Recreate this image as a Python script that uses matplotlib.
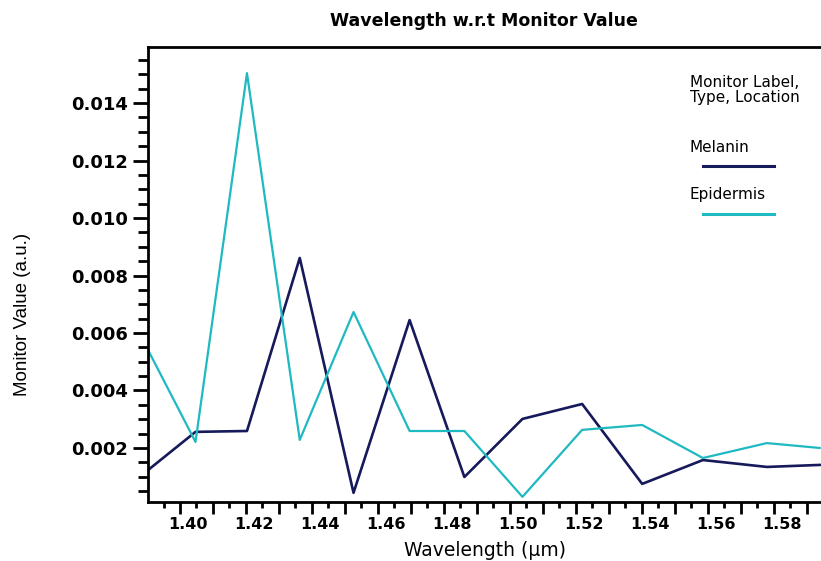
import numpy as np
import matplotlib
matplotlib.use('Agg')
import matplotlib.pyplot as plt
import matplotlib.transforms as mtransforms
from matplotlib.ticker import MultipleLocator, FuncFormatter

# wavelength samples (um) and monitor values
wavelength = [1.3903, 1.4047, 1.4203, 1.4363, 1.4526, 1.4696, 1.4862,
              1.5038, 1.5219, 1.5401, 1.5585, 1.5779, 1.5939]
melanin = [0.00123, 0.00256, 0.00259, 0.00861, 0.00044, 0.00645, 0.00099,
           0.00301, 0.00353, 0.00075, 0.00158, 0.00134, 0.00141]
epidermis = [0.00541, 0.00221, 0.01504, 0.00228, 0.00673, 0.00259, 0.00259,
             0.00030, 0.00263, 0.00280, 0.00165, 0.00217, 0.00200]

series_names = ['Melanin', 'Epidermis']
series_colors = ['#16195a', '#1fb9c1']

plt.rcParams['font.family'] = ['DejaVu Sans']

fig = plt.figure(figsize=(8.21, 5.61), dpi=100)
ax = fig.add_axes([148 / 821, 1 - 502 / 561, 1 - 148 / 821, (502 - 47) / 561])

ax.plot(wavelength, melanin, color=series_colors[0], lw=1.9)
ax.plot(wavelength, epidermis, color=series_colors[1], lw=1.6)

ax.set_xlim(1.3903, 1.5943)
ax.set_ylim(0.00012, 0.01595)

# ticks: long every 0.01, labels every 0.02, short every 0.005
ax.xaxis.set_major_locator(MultipleLocator(0.01))
ax.xaxis.set_minor_locator(MultipleLocator(0.005))
ax.xaxis.set_major_formatter(FuncFormatter(
    lambda v, p: f'{v:.2f}' if round(v * 100) % 2 == 0 else ''))
ax.yaxis.set_major_locator(MultipleLocator(0.002))
ax.yaxis.set_minor_locator(MultipleLocator(0.0005))
ax.yaxis.set_major_formatter(FuncFormatter(lambda v, p: f'{v:.3f}'))

ax.tick_params(axis='x', which='major', direction='out', length=8.6, width=2,
               labelsize=11.5, pad=2)
ax.tick_params(axis='x', which='minor', direction='out', length=4.3, width=2)
ax.tick_params(axis='y', which='major', direction='out', length=10.8, width=2,
               labelsize=13, pad=3.5)
ax.tick_params(axis='y', which='minor', direction='out', length=7.2, width=2)

# x labels in the original sit a little right of their ticks
shift = mtransforms.ScaledTranslation(8 / 100, 0, fig.dpi_scale_trans)
for lab in ax.get_xticklabels():
    lab.set_fontweight('bold')
    lab.set_transform(lab.get_transform() + shift)
for lab in ax.get_yticklabels():
    lab.set_fontweight('bold')

for s in ['left', 'bottom', 'top']:
    ax.spines[s].set_linewidth(2)
ax.spines['right'].set_visible(False)

ax.set_xlabel('Wavelength (\u03bcm)', fontsize=13.5, labelpad=7)
ax.set_ylabel('Monitor Value (a.u.)', fontsize=13.5, family='Liberation Sans')
ax.yaxis.set_label_coords(-0.174, 0.413)
fig.text(0.59, 0.962, 'Wavelength w.r.t Monitor Value', ha='center',
         va='center', fontsize=12.5, fontweight='bold')

# legend drawn in the Lumerical style: label above a short line
ax.text(0.805, 0.905, 'Monitor Label,\nType, Location', transform=ax.transAxes,
        fontsize=11, va='center', linespacing=1.0)
for i, name in enumerate(series_names):
    ty = 0.780 - i * 0.105
    ax.text(0.805, ty, name, transform=ax.transAxes, fontsize=11, va='center')
    ax.plot([0.825, 0.930], [ty - 0.041, ty - 0.041], transform=ax.transAxes,
            color=series_colors[i], lw=2.2)

fig.savefig('out.png', dpi=100)
